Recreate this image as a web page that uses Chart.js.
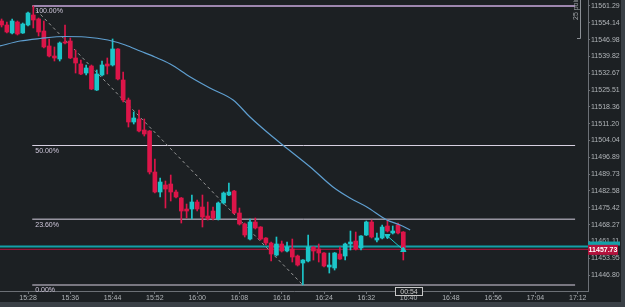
<!DOCTYPE html>
<html>
<head>
<meta charset="utf-8">
<script src="https://cdn.jsdelivr.net/npm/chart.js@4.4.1/dist/chart.umd.min.js"></script>
<style>
    html, body { margin: 0; padding: 0; background: #1c2023; overflow: hidden; }
    canvas { display: block; }
</style>
</head>
<body>
<canvas id="priceChart" width="625" height="307"></canvas>
<script>
// one-minute candles
const candleTimes = [
    '15:23','15:24','15:25','15:26','15:27','15:28','15:29','15:30','15:31','15:32',
    '15:33','15:34','15:35','15:36','15:37','15:38','15:39','15:40','15:41','15:42',
    '15:43','15:44','15:45','15:46','15:47','15:48','15:49','15:50','15:51','15:52',
    '15:53','15:54','15:55','15:56','15:57','15:58','15:59','16:00','16:01','16:02',
    '16:03','16:04','16:05','16:06','16:07','16:08','16:09','16:10','16:11','16:12',
    '16:13','16:14','16:15','16:16','16:17','16:18','16:19','16:20','16:21','16:22',
    '16:23','16:24','16:25','16:26','16:27','16:28','16:29','16:30','16:31','16:32',
    '16:33','16:34','16:35','16:36','16:37','16:38','16:39'
];
const opens = [
    11554.91, 11553.20, 11549.80, 11554.48, 11549.80, 11553.20, 11557.46, 11555.76, 11550.65, 11544.27,
    11540.01, 11538.73, 11545.97, 11546.39, 11539.16, 11536.61, 11532.77, 11535.75, 11525.54, 11531.92,
    11536.61, 11536.18, 11542.99, 11529.80, 11521.28, 11511.92, 11513.20, 11508.52, 11508.09, 11490.64,
    11482.13, 11485.11, 11485.53, 11482.13, 11479.57, 11474.89, 11474.89, 11477.87, 11475.74, 11471.91,
    11474.04, 11470.64, 11477.45, 11480.85, 11482.55, 11473.19, 11468.51, 11462.12, 11469.36, 11467.23,
    11462.55, 11460.42, 11455.31, 11460.00, 11457.02, 11457.87, 11454.89, 11451.91, 11452.76, 11458.72,
    11457.87, 11456.17, 11450.21, 11449.78, 11455.74, 11454.89, 11460.00, 11461.27, 11458.29, 11463.83,
    11469.36, 11461.70, 11462.55, 11467.66, 11464.68, 11468.08, 11465.10
];
const highs = [
    11555.76, 11554.48, 11555.76, 11554.91, 11554.05, 11558.74, 11561.29, 11556.18, 11554.91, 11547.25,
    11543.84, 11545.97, 11553.20, 11547.67, 11542.56, 11538.31, 11536.18, 11536.18, 11534.05, 11537.88,
    11539.16, 11547.25, 11543.20, 11533.20, 11522.13, 11516.18, 11517.03, 11513.20, 11508.30, 11496.17,
    11488.09, 11486.81, 11489.36, 11482.98, 11479.80, 11477.02, 11480.85, 11478.72, 11480.85, 11477.87,
    11475.74, 11477.87, 11482.13, 11485.96, 11482.80, 11475.32, 11468.93, 11470.64, 11471.06, 11467.40,
    11462.70, 11460.85, 11462.98, 11461.27, 11460.85, 11462.12, 11455.31, 11453.40, 11463.83, 11458.90,
    11460.00, 11456.40, 11456.17, 11456.40, 11458.72, 11460.42, 11465.53, 11465.10, 11463.60, 11469.78,
    11470.21, 11464.68, 11468.08, 11470.21, 11467.66, 11468.93, 11465.30
];
const lows = [
    11552.35, 11549.80, 11549.37, 11548.95, 11549.60, 11552.78, 11551.93, 11548.52, 11543.41, 11539.58,
    11537.88, 11537.88, 11545.12, 11538.90, 11532.77, 11532.10, 11531.92, 11525.70, 11525.30, 11531.50,
    11532.35, 11535.75, 11529.80, 11520.43, 11509.79, 11511.07, 11507.66, 11505.96, 11489.79, 11481.70,
    11480.00, 11475.32, 11478.30, 11479.57, 11468.93, 11471.06, 11470.64, 11474.04, 11467.23, 11470.21,
    11470.21, 11470.21, 11477.02, 11480.60, 11472.76, 11468.08, 11462.98, 11461.70, 11466.38, 11461.70,
    11459.57, 11452.76, 11454.89, 11456.59, 11456.59, 11452.34, 11450.63, 11442.55, 11452.34, 11453.19,
    11452.34, 11450.21, 11447.65, 11448.93, 11453.40, 11453.19, 11457.44, 11457.44, 11457.44, 11463.60,
    11462.55, 11460.85, 11462.12, 11465.10, 11464.25, 11464.25, 11453.19
];
const closes = [
    11553.20, 11550.22, 11554.91, 11549.37, 11553.63, 11558.31, 11555.33, 11550.22, 11543.84, 11540.01,
    11539.16, 11545.54, 11545.54, 11539.16, 11537.03, 11532.35, 11534.90, 11525.96, 11532.35, 11536.18,
    11535.75, 11542.99, 11530.22, 11521.28, 11511.92, 11513.62, 11508.09, 11506.81, 11490.64, 11482.13,
    11486.38, 11483.40, 11482.13, 11480.00, 11474.04, 11474.04, 11477.87, 11474.89, 11471.49, 11470.64,
    11471.06, 11477.45, 11481.70, 11482.13, 11473.19, 11468.51, 11463.83, 11469.36, 11466.81, 11462.12,
    11460.42, 11455.74, 11460.00, 11457.02, 11458.72, 11454.46, 11451.06, 11453.19, 11458.72, 11457.02,
    11456.17, 11450.63, 11451.06, 11456.17, 11453.61, 11460.00, 11460.85, 11457.87, 11463.40, 11469.36,
    11462.98, 11462.55, 11467.23, 11465.53, 11465.53, 11464.68, 11457.73
];

// moving average, sampled along the curve (minutes of the day)
const maTimes = [922.7, 926.5, 930.3, 935.0, 938.8, 943.1, 946.4, 949.2, 952.0, 954.9, 958.7, 962.4,
    966.8, 970.0, 973.2, 976.2, 981.4, 985.7, 988.9, 992.1, 995.9, 998.4, 1000.3];
const maValues = [11544.27, 11546.39, 11547.46, 11548.31, 11548.10, 11546.82, 11544.69, 11542.14, 11539.58,
    11536.61, 11531.07, 11526.39, 11521.28, 11514.05, 11507.66, 11502.13, 11492.77, 11484.26, 11479.57,
    11475.74, 11470.21, 11468.08, 11465.95];

// fibonacci retracement
const fibLabels = ['100.00%', '50.00%', '23.60%', '0.00%'];
const fibLevels = [11561.29, 11501.92, 11470.57, 11442.55];
const fibStart = 928.8;
const fibEnd = 1031.5;
const fibAnchorTimes = ['15:28.8', '16:20'];
const fibAnchorPrices = [11561.29, 11442.55];

// bid / ask and trade arrow
const bidPrice = 11457.73;
const askPrice = 11458.93;
const tradeTimes = ['16:36', '16:39'];
const tradePrices = [11463.40, 11457.44];

const xTickLabels = ['15:28','15:36','15:44','15:52','16:00','16:08','16:16','16:24','16:32','16:40','16:48','16:56','17:04','17:12'];
const yTickLabels = ['11561.29','11554.14','11546.98','11539.82','11532.67','11525.51','11518.36','11511.20',
    '11504.04','11496.89','11489.73','11482.58','11475.42','11468.27','11461.11','11453.95','11446.80'];

const BG = '#1c2023';
const UP = '#1cc6c9';
const DOWN = '#dc1549';
const FONT = 'Liberation Sans';

function toMin(t) {
    const [h, m] = t.split(':');
    return parseInt(h, 10) * 60 + parseFloat(m);
}

const candleColors = opens.map((o, i) => closes[i] >= o ? UP : DOWN);
const bodies = candleTimes.map((t, i) => ({ x: toMin(t), y: [opens[i], closes[i]] }));
const wicks = candleTimes.map((t, i) => ({ x: toMin(t), y: [lows[i], highs[i]] }));

function hLine(price, x0, x1) {
    return [{ x: x0, y: price }, { x: x1, y: price }];
}

const X_MIN = 922.7;
const X_MAX = 1033.94;

function noPadding(s) {
    s.paddingTop = 0;
    s.paddingBottom = 0;
    s.paddingLeft = 0;
    s.paddingRight = 0;
}

const fibDatasets = fibLevels.map((lvl, i) => ({
    type: 'line',
    data: hLine(lvl, fibStart, fibEnd),
    borderColor: i === 0 ? '#c8a9de' : '#d6cfe0',
    borderWidth: i === 0 ? 1.5 : 1,
    pointRadius: 0,
    order: 6
}));

const overlay = {
    id: 'overlay',
    beforeDraw(chart) {
        const ctx = chart.ctx;
        ctx.save();
        ctx.fillStyle = BG;
        ctx.fillRect(0, 0, chart.width, chart.height);
        ctx.fillStyle = '#3a4046';
        ctx.fillRect(0, 302, chart.width, 5);
        ctx.fillRect(621, 0, 4, chart.height);
        ctx.restore();
    },
    afterDraw(chart) {
        const ctx = chart.ctx;
        const xs = chart.scales.x;
        const ys = chart.scales.y;
        ctx.save();

        // fib level captions
        ctx.font = '7px "' + FONT + '"';
        ctx.fillStyle = '#d0c8dc';
        ctx.textBaseline = 'top';
        ctx.textAlign = 'left';
        fibLabels.forEach((lbl, i) => {
            ctx.fillText(lbl, xs.getPixelForValue(fibStart) + 3, ys.getPixelForValue(fibLevels[i]) + 2);
        });

        // ask / bid boxes on the price axis
        const right = chart.chartArea.right;
        const askY = ys.getPixelForValue(askPrice);
        ctx.fillStyle = '#13a0a8';
        ctx.fillRect(right, askY - 5, 32, 4);
        const bidY = ys.getPixelForValue(bidPrice);
        ctx.fillStyle = '#b3123d';
        ctx.fillRect(right, bidY - 4.5, 30, 10);
        ctx.fillStyle = '#ffffff';
        ctx.font = 'bold 7px "' + FONT + '"';
        ctx.textBaseline = 'middle';
        ctx.textAlign = 'center';
        ctx.fillText(bidPrice.toFixed(2), right + 15, bidY + 0.5);

        // "25 points" ruler
        ctx.strokeStyle = '#8c9096';
        ctx.lineWidth = 1;
        ctx.beginPath();
        ctx.moveTo(580.5, 0);
        ctx.lineTo(580.5, 38.5);
        ctx.lineTo(577, 38.5);
        ctx.stroke();
        ctx.translate(576, 20);
        ctx.rotate(-Math.PI / 2);
        ctx.fillStyle = '#a0a4a8';
        ctx.font = '7px "' + FONT + '"';
        ctx.textAlign = 'left';
        ctx.textBaseline = 'middle';
        ctx.fillText('25 points', 0, 0);
        ctx.setTransform(1, 0, 0, 1, 0, 0);

        // bar countdown box
        ctx.fillStyle = BG;
        ctx.fillRect(395.5, 287.5, 27, 8);
        ctx.strokeStyle = '#c8c8c8';
        ctx.strokeRect(395.5, 287.5, 27, 8);
        ctx.fillStyle = '#c8c8c8';
        ctx.textAlign = 'center';
        ctx.textBaseline = 'middle';
        ctx.fillText('00:54', 409, 292);
        ctx.restore();
    }
};

new Chart(document.getElementById('priceChart'), {
    type: 'bar',
    data: {
        datasets: [
            {
                type: 'line',
                data: hLine(askPrice, X_MIN, X_MAX),
                borderColor: '#13a0a8',
                borderWidth: 2,
                pointRadius: 0,
                order: 8
            },
            {
                type: 'line',
                data: hLine(bidPrice, X_MIN, X_MAX),
                borderColor: '#b3123d',
                borderWidth: 1,
                pointRadius: 0,
                order: 7
            },
            ...fibDatasets,
            {
                type: 'line',
                data: fibAnchorTimes.map((t, i) => ({ x: toMin(t), y: fibAnchorPrices[i] })),
                borderColor: '#9a9a9a',
                borderWidth: 1,
                borderDash: [3, 3],
                pointRadius: 0,
                order: 5
            },
            {
                data: wicks,
                backgroundColor: candleColors,
                barThickness: 1,
                grouped: false,
                order: 4
            },
            {
                data: bodies,
                backgroundColor: candleColors,
                barThickness: 4,
                minBarLength: 1,
                grouped: false,
                order: 3
            },
            {
                type: 'line',
                data: maTimes.map((t, i) => ({ x: t, y: maValues[i] })),
                borderColor: '#5f9fd0',
                borderWidth: 1.2,
                pointRadius: 0,
                cubicInterpolationMode: 'monotone',
                order: 2
            },
            {
                type: 'line',
                data: tradeTimes.map((t, i) => ({ x: toMin(t), y: tradePrices[i] })),
                borderColor: UP,
                borderWidth: 1,
                pointStyle: 'triangle',
                rotation: [180, 0],
                pointRadius: 3,
                pointBackgroundColor: UP,
                pointBorderColor: UP,
                order: 1
            }
        ]
    },
    options: {
        responsive: false,
        animation: false,
        devicePixelRatio: 1,
        layout: { padding: 0, autoPadding: false },
        plugins: {
            legend: { display: false },
            tooltip: { enabled: false }
        },
        scales: {
            x: {
                type: 'linear',
                min: X_MIN,
                max: X_MAX,
                offset: false,
                border: { color: '#6c7076' },
                grid: { display: true, drawOnChartArea: false, tickLength: 3, color: '#6c7076', offset: false },
                ticks: {
                    color: '#b0b4b8',
                    font: { family: FONT, size: 7 },
                    padding: 0,
                    maxRotation: 0,
                    autoSkip: false,
                    callback: (v, i) => xTickLabels[i]
                },
                afterBuildTicks: s => { s.ticks = xTickLabels.map(l => ({ value: toMin(l) })); },
                afterFit: s => { s.height = 16; noPadding(s); }
            },
            y: {
                position: 'right',
                min: 11440.0,
                max: 11563.84,
                border: { color: '#6c7076' },
                grid: { display: true, drawOnChartArea: false, tickLength: 2, color: '#6c7076' },
                ticks: {
                    color: '#b0b4b8',
                    font: { family: FONT, size: 7 },
                    padding: 1,
                    autoSkip: false,
                    callback: (v, i) => yTickLabels[i]
                },
                afterBuildTicks: s => { s.ticks = yTickLabels.map(l => ({ value: parseFloat(l) })); },
                afterFit: s => { s.width = 37; noPadding(s); }
            }
        }
    },
    plugins: [overlay]
});
</script>
</body>
</html>
